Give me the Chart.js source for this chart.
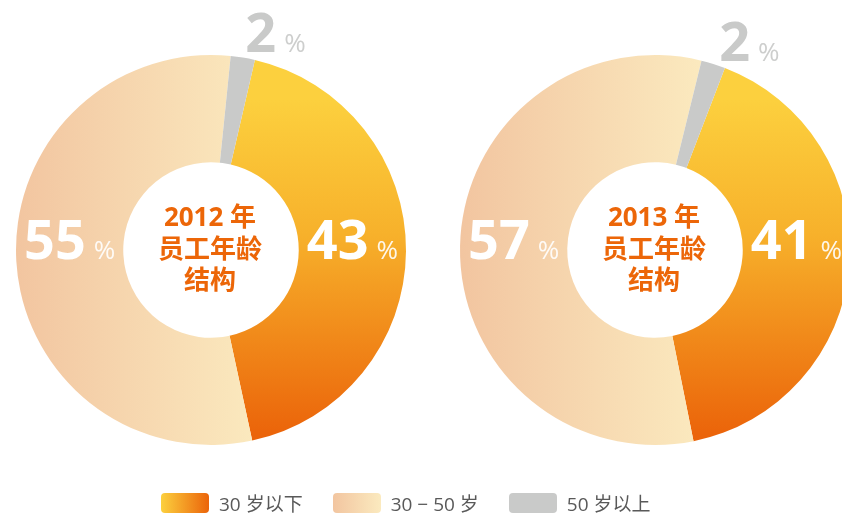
<!DOCTYPE html>
<html>
<head>
<meta charset="utf-8">
<script src="https://cdn.jsdelivr.net/npm/chart.js@4"></script>
<style>
  html, body { margin: 0; padding: 0; background: #fff; overflow: hidden; }
  body { width: 842px; height: 520px; position: relative; }
  .pie { position: absolute; top: 0; width: 400px; height: 500px; }
  #pie2012 { left: 11px; }
  #pie2013 { left: 455px; }
  .legend { position: absolute; left: 161px; top: 489px; display: flex; align-items: center;
            font-family: "Open Sans", "Noto Sans CJK SC", sans-serif; font-size: 19px; color: #595959; }
  .legend .item { display: flex; align-items: center; margin-right: 30px; }
  .legend .swatch { width: 48px; height: 20px; border-radius: 4px; margin-right: 10px; }
</style>
</head>
<body>
<div class="pie" id="pie2012"><canvas id="chart2012"></canvas></div>
<div class="pie" id="pie2013"><canvas id="chart2013"></canvas></div>
<div class="legend" id="legend"></div>

<script>
// data
const categories = ['30 岁以下', '30 − 50 岁', '50 岁以上'];
const years = ['2012', '2013'];
const values2012 = [43, 55, 2];
const values2013 = [41, 57, 2];

const FONT = '"Open Sans", "Noto Sans CJK SC", sans-serif';
const GRAY = '#C9CAC9';

// gradient fills, built once the chart area is known
function sliceColor(context) {
    const chart = context.chart;
    const area = chart.chartArea;
    if (!area) return GRAY;
    const ctx = chart.ctx;
    const cx = (area.left + area.right) / 2;
    const cy = (area.top + area.bottom) / 2;
    if (context.dataIndex === 0) {
        const g = ctx.createLinearGradient(0, cy - 150, 0, cy + 185);
        g.addColorStop(0, '#FCD03E');
        g.addColorStop(0.4, '#F7B12B');
        g.addColorStop(1, '#EB640A');
        return g;
    }
    if (context.dataIndex === 1) {
        const g = ctx.createLinearGradient(cx - 195, 0, cx + 50, 0);
        g.addColorStop(0, '#F2C5A0');
        g.addColorStop(1, '#FBEABF');
        return g;
    }
    return GRAY;
}

// percent labels + centre title
const labelPlugin = {
    id: 'sliceLabels',
    afterDatasetsDraw(chart, args, opts) {
        const ctx = chart.ctx;
        const meta = chart.getDatasetMeta(0);
        const vals = chart.data.datasets[0].data;
        ctx.save();
        meta.data.forEach((arc, i) => {
            const p = arc.getProps(['x', 'y', 'innerRadius', 'outerRadius', 'startAngle', 'endAngle'], true);
            const num = String(vals[i]);
            ctx.font = 'bold 54px ' + FONT;
            const numW = ctx.measureText(num).width;
            ctx.font = '26px ' + FONT;
            const pctW = ctx.measureText('%').width;
            const gap = 8;
            let left, base, numColor, pctColor;
            if (i < 2) {
                const mid = (p.innerRadius + p.outerRadius) / 2;
                const ax = i === 0 ? p.x + mid : p.x - mid;
                left = ax - (numW + gap + pctW) / 2;
                base = p.y + 9;
                numColor = '#ffffff';
                pctColor = 'rgba(255,255,255,0.9)';
            } else {
                // small slice: label sits just outside the ring
                const a = (p.startAngle + p.endAngle) / 2 + 0.06;
                const r = p.outerRadius + 29;
                left = p.x + r * Math.cos(a) - numW / 2;
                base = p.y + r * Math.sin(a) + 20;
                numColor = GRAY;
                pctColor = '#CDCECD';
            }
            ctx.textBaseline = 'alphabetic';
            ctx.textAlign = 'left';
            ctx.fillStyle = numColor;
            ctx.font = 'bold 54px ' + FONT;
            ctx.fillText(num, left, base);
            ctx.fillStyle = pctColor;
            ctx.font = '26px ' + FONT;
            ctx.fillText('%', left + numW + gap, base);
        });

        const c = meta.data[0];
        ctx.fillStyle = '#EC6608';
        ctx.textAlign = 'center';
        ctx.textBaseline = 'middle';
        ctx.font = 'bold 26px ' + FONT;
        opts.title.forEach((line, k) => {
            ctx.fillText(line, c.x - 1, c.y - 31 + k * 31.5);
        });
        ctx.restore();
    }
};

function makeChart(id, year, values, rotation) {
    new Chart(document.getElementById(id), {
        type: 'doughnut',
        data: {
            labels: categories,
            datasets: [{
                data: values,
                backgroundColor: sliceColor,
                borderWidth: 0
            }]
        },
        options: {
            responsive: true,
            maintainAspectRatio: false,
            animation: false,
            cutout: '45%',
            rotation: rotation,
            layout: { padding: { top: 55, bottom: 55, left: 5, right: 5 } },
            plugins: {
                legend: { display: false },
                tooltip: { enabled: false },
                sliceLabels: { title: [year + ' 年', '员工年龄', '结构'] }
            }
        },
        plugins: [labelPlugin]
    });
}

makeChart('chart2012', years[0], values2012, 13);
makeChart('chart2013', years[1], values2013, 21);

// shared legend
const swatches = [
    'linear-gradient(to right, #FCD03E, #EB640A)',
    'linear-gradient(to right, #F2C5A0, #FBEABF)',
    GRAY
];
const legend = document.getElementById('legend');
categories.forEach((name, i) => {
    const item = document.createElement('div');
    item.className = 'item';
    item.innerHTML = '<div class="swatch" style="background:' + swatches[i] + '"></div><span>' + name + '</span>';
    legend.appendChild(item);
});
</script>
</body>
</html>
